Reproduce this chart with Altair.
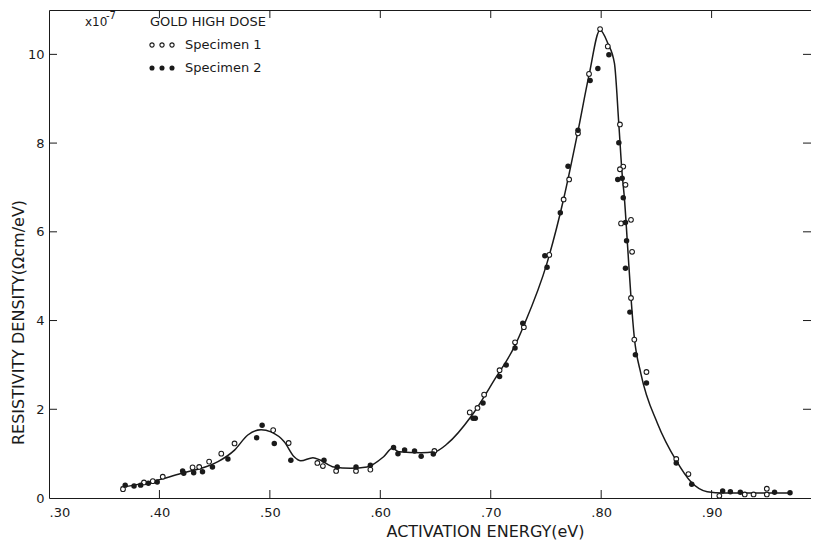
import altair as alt
import pandas as pd

# ---- data ----
curve_e = [0.365, 0.377, 0.401, 0.422, 0.438, 0.453, 0.468, 0.480, 0.492, 0.501,
           0.513, 0.522, 0.528, 0.539, 0.546, 0.558, 0.573, 0.588, 0.603, 0.611,
           0.617, 0.637, 0.649, 0.661, 0.682, 0.703, 0.722, 0.730, 0.751, 0.766,
           0.779, 0.789, 0.799, 0.806, 0.812, 0.816, 0.819, 0.821, 0.824, 0.827,
           0.830, 0.836, 0.851, 0.868, 0.881, 0.896, 0.911, 0.972]
curve_v = [0.24, 0.29, 0.42, 0.57, 0.67, 0.82, 1.08, 1.42, 1.54, 1.49,
           1.27, 0.93, 0.84, 0.91, 0.85, 0.70, 0.67, 0.70, 0.93, 1.12,
           1.04, 1.02, 1.04, 1.23, 1.83, 2.65, 3.44, 3.89, 5.30, 6.74,
           8.27, 9.53, 10.55, 10.25, 9.80, 8.42, 7.30, 6.77, 5.65, 4.52,
           3.62, 2.80, 1.68, 0.84, 0.37, 0.14, 0.11, 0.11]

spec1_e = [0.367, 0.386, 0.394, 0.403, 0.430, 0.436, 0.445, 0.456, 0.468, 0.503,
           0.517, 0.543, 0.548, 0.560, 0.578, 0.591, 0.649, 0.681, 0.688, 0.694,
           0.708, 0.722, 0.730, 0.753, 0.766, 0.771, 0.779, 0.789, 0.799, 0.806,
           0.817, 0.820, 0.817, 0.822, 0.827, 0.818, 0.828, 0.827, 0.830, 0.841,
           0.868, 0.879, 0.907, 0.930, 0.938, 0.950, 0.950]
spec1_v = [0.20, 0.35, 0.38, 0.48, 0.69, 0.70, 0.82, 1.00, 1.23, 1.53,
           1.24, 0.79, 0.72, 0.61, 0.61, 0.64, 1.06, 1.93, 2.03, 2.33,
           2.88, 3.51, 3.85, 5.48, 6.73, 7.18, 8.22, 9.56, 10.57, 10.18,
           8.42, 7.47, 7.41, 7.06, 6.27, 6.19, 5.55, 4.51, 3.57, 2.84,
           0.88, 0.54, 0.05, 0.08, 0.08, 0.21, 0.08]

spec2_e = [0.369, 0.377, 0.383, 0.390, 0.398, 0.421, 0.422, 0.431, 0.439, 0.448,
           0.462, 0.488, 0.493, 0.504, 0.519, 0.549, 0.561, 0.578, 0.591, 0.612,
           0.616, 0.622, 0.631, 0.637, 0.648, 0.684, 0.686, 0.693, 0.708, 0.714,
           0.722, 0.729, 0.751, 0.749, 0.763, 0.770, 0.779, 0.790, 0.797, 0.807,
           0.816, 0.819, 0.815, 0.820, 0.822, 0.823, 0.822, 0.826, 0.831, 0.841,
           0.868, 0.882, 0.910, 0.917, 0.926, 0.957, 0.971]
spec2_v = [0.29, 0.27, 0.29, 0.33, 0.36, 0.61, 0.56, 0.57, 0.59, 0.70,
           0.88, 1.36, 1.64, 1.23, 0.85, 0.85, 0.70, 0.70, 0.74, 1.14,
           1.00, 1.08, 1.06, 0.94, 0.99, 1.80, 1.80, 2.14, 2.74, 3.00,
           3.38, 3.94, 5.20, 5.46, 6.43, 7.48, 8.29, 9.41, 9.68, 9.99,
           8.01, 7.21, 7.18, 6.77, 6.21, 5.80, 5.18, 4.19, 3.23, 2.59,
           0.79, 0.31, 0.16, 0.14, 0.13, 0.13, 0.12]

x_ticks = [0.30, 0.40, 0.50, 0.60, 0.70, 0.80, 0.90]
y_ticks = [0, 2, 4, 6, 8, 10]

# ---- layout ----
W, H = 762, 488
FONT = "DejaVu Sans"
INK = "#1a1a1a"
TICK = 8

xs = alt.Scale(domain=[0.30, 0.99], nice=False, zero=False)
ys = alt.Scale(domain=[0, 11], nice=False)

x_axis = alt.Axis(values=x_ticks, labelExpr="'.' + format(round(datum.value*100), 'd')",
                  title="ACTIVATION ENERGY(eV)", ticks=False, domain=False, grid=False,
                  labelPadding=8, labelFont=FONT, labelFontSize=13, labelColor=INK,
                  titleFont=FONT, titleFontSize=16, titleFontWeight="normal", titleColor=INK,
                  titleX=436, titleY=33, titleBaseline="middle", titleAlign="center",
                  titleAnchor="start")
y_axis = alt.Axis(values=y_ticks, format="d", title="RESISTIVITY  DENSITY(Ωcm/eV)",
                  ticks=False, domain=False, grid=False, labelPadding=5,
                  labelFont=FONT, labelFontSize=13, labelColor=INK,
                  titleFont=FONT, titleFontSize=16, titleFontWeight="normal", titleColor=INK,
                  titleX=-31, titleY=312, titleAngle=270, titleBaseline="middle",
                  titleAlign="center", titleAnchor="start")

X = alt.X("e:Q", scale=xs, axis=x_axis)
Y = alt.Y("v:Q", scale=ys, axis=y_axis)

curve_df = pd.DataFrame({"e": curve_e, "v": curve_v})
s1_df = pd.DataFrame({"e": spec1_e, "v": spec1_v})
s2_df = pd.DataFrame({"e": spec2_e, "v": spec2_v})
xt_df = pd.DataFrame({"e": x_ticks[1:]})
yt_df = pd.DataFrame({"v": y_ticks[1:]})

curve = alt.Chart(curve_df).mark_line(color=INK, strokeWidth=1.5, interpolate="monotone").encode(x=X, y=Y)
s1 = alt.Chart(s1_df).mark_point(shape="circle", filled=False, fill="white", fillOpacity=1,
                                 stroke=INK, strokeWidth=1.1, size=22, opacity=1).encode(x=X, y=Y)
s2 = alt.Chart(s2_df).mark_point(shape="circle", filled=True, color=INK, size=30, opacity=1).encode(x=X, y=Y)

tick_style = dict(color=INK, strokeWidth=1)
t_bottom = alt.Chart(xt_df).mark_rule(**tick_style).encode(x=X, y=alt.value(H - TICK), y2=alt.value(H))
t_top = alt.Chart(xt_df).mark_rule(**tick_style).encode(x=X, y=alt.value(0), y2=alt.value(TICK))
t_left = alt.Chart(yt_df).mark_rule(**tick_style).encode(y=Y, x=alt.value(0), x2=alt.value(TICK))
t_right = alt.Chart(yt_df).mark_rule(**tick_style).encode(y=Y, x=alt.value(W - TICK), x2=alt.value(W))

def label(txt, x, y, size=13, align="left"):
    return alt.Chart(pd.DataFrame({"t": [txt]})).mark_text(
        font=FONT, fontSize=size, color=INK, align=align, baseline="middle"
    ).encode(text="t:N", x=alt.value(x), y=alt.value(y))

ann = [
    label("x10", 36, 12, 12),
    label("-7", 57, 6, 10),
    label("GOLD  HIGH  DOSE", 101, 12, 13),
    label("Specimen 1", 136, 35, 13),
    label("Specimen 2", 136, 58, 13),
]

leg_pts = []
for i, gx in enumerate([103, 113, 123]):
    leg_pts.append(alt.Chart(pd.DataFrame({"k": [i]})).mark_point(
        shape="circle", filled=False, fill="white", fillOpacity=1, stroke=INK,
        strokeWidth=1.1, size=18, opacity=1).encode(x=alt.value(gx), y=alt.value(35)))
    leg_pts.append(alt.Chart(pd.DataFrame({"k": [i]})).mark_point(
        shape="circle", filled=True, color=INK, size=26, opacity=1
    ).encode(x=alt.value(gx), y=alt.value(58)))

chart = alt.layer(curve, s1, s2, t_bottom, t_top, t_left, t_right, *ann, *leg_pts).properties(
    width=W, height=H,
    autosize=alt.AutoSizeParams(type="none"),
    padding={"left": 41, "top": 2, "right": 0, "bottom": 44},
    background="white",
).configure_view(stroke=INK, strokeWidth=1)

chart.save("out.html", embed_options={"renderer": "svg", "actions": False})
